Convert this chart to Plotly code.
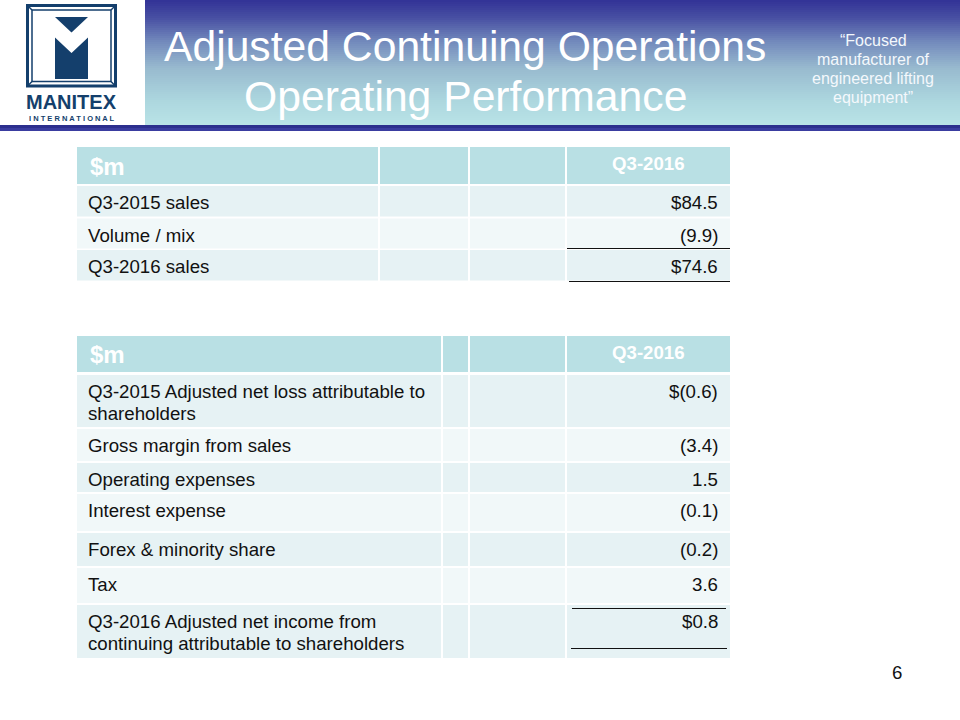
import plotly.graph_objects as go

# ---------------- data ----------------
TITLE_LINES = ["Adjusted Continuing Operations", "Operating Performance"]
TAGLINE_LINES = ["\u201cFocused", "manufacturer of", "engineered lifting", "equipment\u201d"]
UNIT_LABEL = "$m"
PERIOD = "Q3-2016"

T1_LABELS = ["Q3-2015 sales", "Volume / mix", "Q3-2016 sales"]
T1_VALUES = ["$84.5", "(9.9)", "$74.6"]

T2_LABELS = [
    "Q3-2015 Adjusted net loss attributable to<br>shareholders",
    "Gross margin from sales",
    "Operating expenses",
    "Interest expense",
    "Forex & minority share",
    "Tax",
    "Q3-2016 Adjusted net income from<br>continuing attributable to shareholders",
]
T2_VALUES = ["$(0.6)", "(3.4)", "1.5", "(0.1)", "(0.2)", "3.6", "$0.8"]

BRAND = "MANITEX"
BRAND_SUB = "INTERNATIONAL"
PAGE = "6"

# ---------------- styling / layout ----------------
FONT = "Arial, 'Liberation Sans', sans-serif"
HEADER_BG = "#b9e0e4"
ROW_DARK = "#e6f2f4"
ROW_LIGHT = "#f1f8f9"
NAVY = "#143f6c"
TEXT = "#111111"

T1 = dict(cols=[(77, 378), (380, 468), (470, 565), (567, 730)],
          header=(147, 184),
          rows=[(186, 216.5), (218.5, 248.5), (250, 280.5)],
          rules=[(567, 730, 248.5), (569, 730, 281.5)],
          labels=T1_LABELS, values=T1_VALUES)
T2 = dict(cols=[(77, 441), (443, 468), (470, 565), (567, 730)],
          header=(336, 372),
          rows=[(375, 427), (429, 461), (463, 492), (494, 531), (533, 566), (568, 603), (605, 658)],
          rules=[(572, 726, 608.5), (571, 727, 648.5)],
          labels=T2_LABELS, values=T2_VALUES)

shapes = []
annotations = []


def rect(x0, y0, x1, y1, color, **kw):
    shapes.append(dict(type="rect", xref="x", yref="y", x0=x0, y0=y0, x1=x1, y1=y1,
                       fillcolor=color, line=dict(width=0), layer="below", **kw))


def text(x, y, s, size, color=TEXT, xanchor="left", bold=False, family=FONT):
    if bold:
        s = "<b>" + s + "</b>"
    annotations.append(dict(x=x, y=y, xref="x", yref="y", text=s, showarrow=False,
                            xanchor=xanchor, yanchor="middle",
                            font=dict(family=family, size=size, color=color)))


def lerp(c0, c1, t):
    return tuple(round(a + (b - a) * t) for a, b in zip(c0, c1))


# ---- banner gradient ----
stops = [(0, (50, 50, 150)), (18, (72, 80, 163)), (42, (115, 138, 188)),
         (68, (152, 186, 207)), (100, (172, 214, 222)), (125, (185, 227, 231))]
step = 2
y = 0
while y < 125:
    yc = y + step / 2
    for (ya, ca), (yb, cb) in zip(stops[:-1], stops[1:]):
        if ya <= yc <= yb:
            c = lerp(ca, cb, (yc - ya) / (yb - ya))
            break
    rect(145, y, 960, min(y + step + 0.5, 125), "rgb(%d,%d,%d)" % c)
    y += step
# dark band under header
rect(0, 125, 960, 128, "#2c2f8e")
rect(0, 128, 960, 131, "#3a3da0")

# ---- logo ----
shapes.append(dict(type="rect", xref="x", yref="y", x0=27.5, y0=5.5, x1=115.5, y1=86,
                   line=dict(color=NAVY, width=3), fillcolor="white"))
shapes.append(dict(type="rect", xref="x", yref="y", x0=32, y0=10, x1=111, y1=81.5,
                   line=dict(color=NAVY, width=1.5)))
for (ax, ay, bx, by) in [(27.5, 5.5, 32, 10), (115.5, 5.5, 111, 10),
                         (27.5, 86, 32, 81.5), (115.5, 86, 111, 81.5)]:
    shapes.append(dict(type="line", xref="x", yref="y", x0=ax, y0=ay, x1=bx, y1=by,
                       line=dict(color=NAVY, width=1.5)))
shapes.append(dict(type="path", xref="x", yref="y",
                   path="M 55 17 L 88 17 L 71.5 32.5 Z",
                   fillcolor=NAVY, line=dict(width=0)))
shapes.append(dict(type="path", xref="x", yref="y",
                   path="M 55 37.5 L 71.5 53 L 88 37.5 L 88 79 L 55 79 Z",
                   fillcolor=NAVY, line=dict(width=0)))
text(71.5, 102, BRAND, 20, color=NAVY, xanchor="center", bold=True)
text(71.5, 118.5, " ".join(BRAND_SUB), 7.5, color=NAVY, xanchor="center", bold=True)

# ---- title + tagline ----
for i, line in enumerate(TITLE_LINES):
    text(465, 46 + 50 * i, line, 42.67, color="white", xanchor="center")
for i, line in enumerate(TAGLINE_LINES):
    text(873, 40 + 19 * i, line, 16, color="#f4f8fc", xanchor="center")


# ---- tables ----
def draw_table(t):
    cols = t["cols"]
    h0, h1 = t["header"]
    for (x0, x1) in cols:
        rect(x0, h0, x1, h1, HEADER_BG)
    text(cols[0][0] + 11, (h0 + h1) / 2 + 0.5, UNIT_LABEL, 24, color="white", bold=True)
    text((cols[3][0] + cols[3][1]) / 2, (h0 + h1) / 2 - 2, PERIOD, 18.67,
         color="white", xanchor="center", bold=True)
    for i, ((r0, r1), lab, val) in enumerate(zip(t["rows"], t["labels"], t["values"])):
        col = ROW_DARK if i % 2 == 0 else ROW_LIGHT
        for (x0, x1) in cols:
            rect(x0, r0, x1, r1, col)
        for j, part in enumerate(lab.split("<br>")):
            text(cols[0][0] + 9, r0 + 16.5 + 21.5 * j, part, 18.67)
        text(cols[3][1] - 10, r0 + 16.5, val, 18.67, xanchor="right")
    for (x0, x1, yy) in t["rules"]:
        shapes.append(dict(type="line", xref="x", yref="y", x0=x0, x1=x1, y0=yy, y1=yy,
                           line=dict(color="#111111", width=1)))


draw_table(T1)
draw_table(T2)

# page number
text(897, 672, PAGE, 18.67, xanchor="center")

fig = go.Figure()
fig.add_trace(go.Scatter(x=[0, 960], y=[0, 720], mode="markers",
                         marker=dict(opacity=0), hoverinfo="skip", showlegend=False))
fig.update_layout(
    width=960, height=720,
    margin=dict(l=0, r=0, t=0, b=0),
    paper_bgcolor="white", plot_bgcolor="white",
    xaxis=dict(range=[0, 960], visible=False, fixedrange=True),
    yaxis=dict(range=[720, 0], visible=False, fixedrange=True),
    shapes=shapes, annotations=annotations, showlegend=False,
)
fig.write_html("out.html", config={"displayModeBar": False},
               post_script="document.body.style.margin='0px';document.body.style.overflow='hidden';")
